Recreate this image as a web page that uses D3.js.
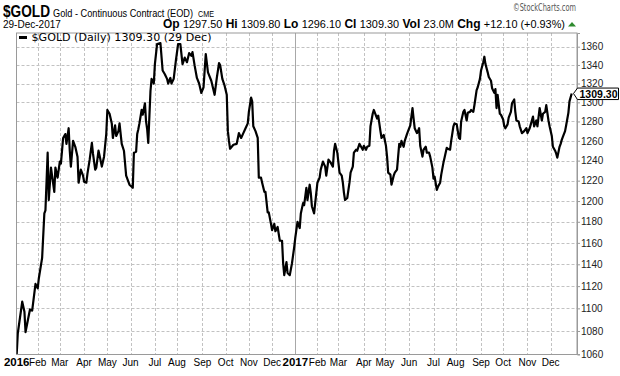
<!DOCTYPE html>
<html><head><meta charset="utf-8">
<script src="https://cdn.jsdelivr.net/npm/d3@7"></script>
<style>
html,body{margin:0;padding:0;background:#fff;}
svg{display:block;}
</style></head>
<body><svg id="c" width="620" height="376"></svg>
<script>
// ---- data ----
const holidays = ["2016-01-01","2016-01-18","2016-02-15","2016-03-25","2016-05-30","2016-07-04","2016-09-05","2016-11-24","2016-12-26",
  "2017-01-02","2017-01-16","2017-02-20","2017-04-14","2017-05-29","2017-07-04","2017-09-04","2017-11-23","2017-12-25"];
// trading-session number (0 = first session of 2016) and daily close
const sessions = [0,1,5,7,8,10,12,14,17,19,20,23,25,26,28,29,31,32,34,35,37,39,40,42,44,45,47,48,49,51,53,55,56,58,60,61,63,64,66,68,69,71,72,74,75,77,79,81,82,84,86,87,89,90,92,93,95,97,99,101,102,105,106,108,109,110,111,113,114,116,117,118,119,121,122,124,125,127,130,132,134,136,137,139,140,142,144,146,148,150,152,154,156,158,159,161,163,165,167,169,171,173,176,179,181,183,184,186,188,190,191,192,193,196,199,201,203,205,207,209,210,212,213,214,216,218,219,221,222,224,225,227,228,230,231,233,234,236,238,240,241,242,244,245,247,249,251,252,254,256,257,259,260,262,263,265,266,267,269,271,272,274,275,277,279,280,282,284,286,287,288,290,292,294,295,296,297,299,301,302,304,305,307,308,310,313,314,316,317,319,320,322,323,326,327,329,330,332,334,335,336,338,339,341,342,344,345,346,347,348,350,351,353,354,356,357,358,359,360,362,363,364,365,367,368,370,371,373,374,376,377,378,380,381,383,384,386,387,389,390,392,393,395,396,398,400,401,402,404,405,407,408,410,411,413,414,416,417,419,420,422,423,424,426,427,429,430,432,433,434,435,437,438,440,441,442,444,445,447,448,450,451,452,454,455,457,459,461,462,464,465,467,468,470,471,473,475,476,478,479,481,482,484,485,487,488,489,491,492,493,494,496,497,499,500,502];
const closes = [1060,1078,1106,1097,1079,1089,1099,1098,1122,1118,1127,1146,1188,1191,1248,1201,1233,1225,1209,1233,1223,1239,1237,1263,1267,1257,1273,1250,1234,1260,1254,1244,1218,1231,1225,1219,1218,1227,1241,1258,1247,1231,1233,1250,1245,1234,1244,1267,1292,1288,1278,1263,1276,1265,1270,1278,1257,1250,1225,1219,1216,1213,1248,1249,1267,1272,1278,1292,1287,1299,1280,1272,1258,1312,1325,1320,1341,1363,1364,1334,1330,1325,1320,1326,1320,1325,1345,1363,1363,1341,1348,1343,1353,1350,1354,1339,1326,1320,1310,1316,1352,1332,1323,1308,1326,1342,1340,1325,1318,1308,1270,1260,1252,1256,1257,1268,1263,1268,1273,1278,1290,1305,1301,1275,1270,1263,1223,1223,1218,1209,1209,1189,1189,1178,1172,1178,1171,1175,1162,1162,1141,1130,1142,1132,1130,1141,1156,1165,1180,1174,1188,1198,1196,1213,1201,1216,1208,1195,1188,1208,1218,1223,1231,1239,1234,1225,1241,1238,1234,1250,1257,1248,1228,1225,1218,1208,1201,1203,1218,1228,1234,1248,1251,1250,1257,1251,1255,1251,1254,1255,1275,1288,1292,1283,1286,1270,1263,1266,1255,1244,1228,1226,1216,1225,1228,1231,1244,1257,1254,1260,1254,1260,1267,1270,1276,1285,1294,1283,1273,1268,1270,1273,1255,1244,1251,1254,1248,1248,1244,1233,1222,1224,1211,1214,1218,1226,1238,1243,1253,1252,1251,1260,1275,1278,1277,1263,1262,1280,1290,1292,1281,1289,1290,1292,1290,1297,1313,1316,1325,1334,1343,1349,1341,1332,1327,1323,1315,1310,1314,1294,1308,1288,1287,1282,1275,1273,1277,1284,1290,1299,1303,1290,1281,1280,1275,1268,1270,1273,1268,1273,1277,1285,1275,1281,1275,1294,1281,1288,1290,1297,1281,1275,1265,1254,1250,1247,1243,1254,1257,1261,1264,1270,1276,1289,1301,1309.3];
const yTickValues = [1060,1080,1100,1120,1140,1160,1180,1200,1220,1240,1260,1280,1300,1320,1340,1360];
const monthLabels = ["Jan","Feb","Mar","Apr","May","Jun","Jul","Aug","Sep","Oct","Nov","Dec"];
const lastClose = 1309.30;
const legendText = "$GOLD (Daily) 1309.30 (29 Dec)";
const quote = [["Op","1297.50"],["Hi","1309.80"],["Lo","1296.10"],["Cl","1309.30"],["Vol","23.0M"],["Chg","+12.10 (+0.93%)"]];

// ---- trading calendar ----
const fmt = d3.timeFormat("%Y-%m-%d");
const hol = new Set(holidays);
const days = d3.timeDay.range(new Date(2016,0,1), new Date(2017,11,30))
  .filter(d => d.getDay() !== 0 && d.getDay() !== 6 && !hol.has(fmt(d)));

const L = 16.5, R = 577, T = 33, B = 354.5;
const x = d3.scaleLinear().domain([0, days.length - 1]).range([16.7, 571.7]);
const y = d3.scaleLog().domain([1059.6, 1375.2]).range([B, T]);

const svg = d3.select("#c");
const AR = "'Liberation Sans', Arial, sans-serif";

// header
svg.append("text").attr("x",3).attr("y",17).attr("font-family","'Liberation Sans Narrow', "+AR)
  .attr("font-weight","bold").attr("font-size",16.5).attr("textLength",47).attr("lengthAdjust","spacingAndGlyphs").text("$GOLD");
svg.append("text").attr("x",53).attr("y",16.5).attr("font-family","'Liberation Sans Narrow', "+AR)
  .attr("font-size",11.5).attr("textLength",140).attr("lengthAdjust","spacingAndGlyphs").text("Gold - Continuous Contract (EOD)");
svg.append("text").attr("x",198).attr("y",16.5).attr("font-family",AR)
  .attr("font-size",9).attr("textLength",16).attr("lengthAdjust","spacingAndGlyphs").text("CME");
svg.append("text").attr("x",576).attr("y",11).attr("text-anchor","end").attr("font-family","'DejaVu Sans', sans-serif")
  .attr("font-size",10).attr("fill","#555").attr("textLength",63).attr("lengthAdjust","spacingAndGlyphs").text("\u00A9StockCharts.com");
svg.append("text").attr("x",3).attr("y",28).attr("font-family",AR).attr("font-size",10).text("29-Dec-2017");
const q = svg.append("text").attr("x",565).attr("y",28).attr("text-anchor","end").attr("font-family",AR);
quote.forEach(([k,v],i) => {
  q.append("tspan").attr("font-weight","bold").attr("font-size",12).text((i?" ":"")+k+" ");
  q.append("tspan").attr("font-size",10.9).text(v);
});
svg.append("path").attr("d","M568,26.5 L576,26.5 L572,22 Z").attr("fill","#2e8b2e");

// grid
const g = svg.append("g");
g.selectAll("line.h").data(yTickValues).join("line")
  .attr("x1",L).attr("x2",R).attr("y1",d=>Math.round(y(d))+0.5).attr("y2",d=>Math.round(y(d))+0.5)
  .attr("stroke","#c2c2c2").attr("stroke-dasharray","3,2");
const monthStarts = [];
days.forEach((d,i) => { if (i===0 || d.getMonth() !== days[i-1].getMonth()) monthStarts.push({i, d}); });
g.selectAll("line.v").data(monthStarts.filter(m => m.i > 0)).join("line")
  .attr("x1",m=>Math.round(x(m.i))+0.5).attr("x2",m=>Math.round(x(m.i))+0.5).attr("y1",T).attr("y2",B)
  .attr("stroke",m=>m.d.getMonth()===0 ? "#a8a8a8" : "#c2c2c2")
  .attr("stroke-dasharray",m=>m.d.getMonth()===0 ? null : "3,2");

// frame
svg.append("rect").attr("x",L).attr("y",T).attr("width",R-L).attr("height",B-T)
  .attr("fill","none").attr("stroke","#9a9a9a").attr("stroke-width",1);

// right axis
const ax = svg.append("g").attr("transform",`translate(${R},0)`)
  .call(d3.axisRight(y).tickValues(yTickValues).tickFormat(d3.format("d")).tickSize(3).tickPadding(1));
ax.select(".domain").attr("stroke","#9a9a9a");
ax.selectAll(".tick line").attr("stroke","#9a9a9a");
ax.selectAll(".tick text").attr("font-family",AR).attr("font-size",10).attr("fill","#222");

// x labels
svg.selectAll("text.m").data(monthStarts).join("text")
  .attr("x",m=>x(m.i)).attr("y",365.5).attr("text-anchor","middle").attr("font-family",AR)
  .attr("font-weight",m=>m.d.getMonth()===0 ? "bold" : "normal")
  .attr("font-size",m=>m.d.getMonth()===0 ? 11.5 : 10)
  .text(m=>m.d.getMonth()===0 ? m.d.getFullYear() : monthLabels[m.d.getMonth()]);

// price line
svg.append("clipPath").attr("id","clip").append("rect").attr("x",L).attr("y",T).attr("width",R-L).attr("height",B-T);
const pts = sessions.map((s,i) => ({s, v: closes[i]}));
svg.append("path").datum(pts).attr("clip-path","url(#clip)")
  .attr("d", d3.line().x(d=>x(d.s)).y(d=>y(d.v)))
  .attr("fill","none").attr("stroke","#000").attr("stroke-width",2.2).attr("stroke-linejoin","round");

// legend
svg.append("line").attr("x1",19).attr("x2",27).attr("y1",37.5).attr("y2",37.5).attr("stroke","#000").attr("stroke-width",3);
svg.append("text").attr("x",31.5).attr("y",41).attr("font-family","'DejaVu Sans', Verdana, sans-serif")
  .attr("font-size",11).attr("textLength",180).attr("lengthAdjust","spacingAndGlyphs").text(legendText);

// last price tag
const yl = y(lastClose);
svg.append("path").attr("d",`M573.5,${yl} L577.5,${yl-5.5} L618.5,${yl-5.5} L618.5,${yl+6} L577.5,${yl+6} Z`)
  .attr("fill","#fff").attr("stroke","#000").attr("stroke-width",1);
svg.append("text").attr("x",579.5).attr("y",yl+4.5).attr("font-family",AR).attr("font-weight","bold")
  .attr("font-size",11).attr("textLength",38).attr("lengthAdjust","spacingAndGlyphs").text(d3.format(".2f")(lastClose));
</script></body></html>
